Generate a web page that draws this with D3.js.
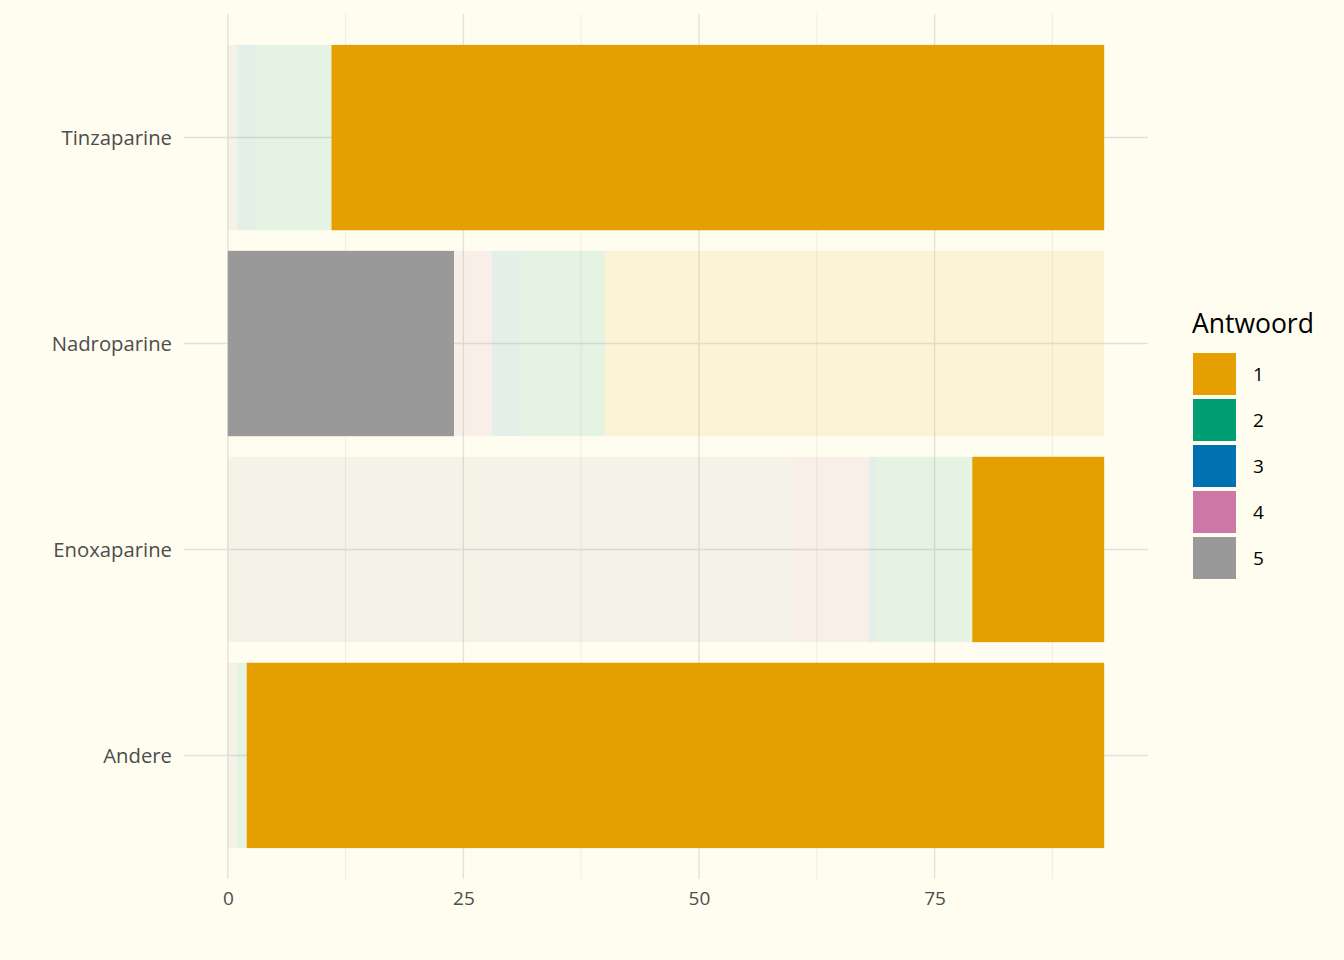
<!DOCTYPE html>
<html><head><meta charset="utf-8">
<script src="https://cdn.jsdelivr.net/npm/d3@7"></script>
<style>
html,body{margin:0;padding:0;background:#FFFDF0;}
svg{display:block;font-family:"Open Sans",sans-serif;}
</style></head>
<body><svg id="c" width="1344" height="960"></svg>
<script>
const categories = ["Tinzaparine","Nadroparine","Enoxaparine","Andere"];
const levels = ["1","2","3","4","5"];
const stackOrder = ["5","4","3","2","1"];
const values1 = [82, 53, 14, 91];
const values2 = [8, 9, 10, 1];
const values3 = [2, 3, 1, 0];
const values4 = [0, 4, 8, 0];
const values5 = [1, 24, 60, 1];
const highlighted = ["1","5","1","1"];
const colors = ["#E69F00","#009E73","#0072B2","#CC79A7","#999999"];
const xTicks = [0,25,50,75];
const xMinor = [12.5,37.5,62.5,87.5];

const vals = {"1":values1,"2":values2,"3":values3,"4":values4,"5":values5};
const color = d3.scaleOrdinal().domain(levels).range(colors);
const rows = categories.map((c,i)=>{const r={cat:c,hl:highlighted[i]};levels.forEach(l=>r[l]=vals[l][i]);return r;});
const stack = d3.stack().keys(stackOrder)(rows);
const total = d3.max(rows, r=>d3.sum(levels,l=>r[l]));

const svg = d3.select("#c");
const pL=184, pR=1148, pT=14, pB=879;
const pad = total*0.05;
const x = d3.scaleLinear().domain([-pad,total+pad]).range([pL,pR]);
// discrete axis with ggplot-style expansion (0.6 units each side)
const n = categories.length;
const yIdx = d3.scaleLinear().domain([-0.6, n-1+0.6]).range([pT,pB]);
const yc = c => yIdx(categories.indexOf(c));
const bh = (yIdx(1)-yIdx(0))*0.9;

const g = svg.append("g");
g.selectAll(".mn").data(xMinor).join("line")
 .attr("x1",d=>x(d)).attr("x2",d=>x(d)).attr("y1",pT).attr("y2",pB)
 .attr("stroke","#EFEDE2").attr("stroke-width",1);
g.selectAll(".mj").data(xTicks).join("line")
 .attr("x1",d=>x(d)).attr("x2",d=>x(d)).attr("y1",pT).attr("y2",pB)
 .attr("stroke","#E4E2D8").attr("stroke-width",1.4);
g.selectAll(".hy").data(categories).join("line")
 .attr("x1",pL).attr("x2",pR).attr("y1",d=>yc(d)).attr("y2",d=>yc(d))
 .attr("stroke","#E4E2D8").attr("stroke-width",1.4);

stack.forEach(layer=>{
  const key = layer.key;
  g.append("g").selectAll("rect").data(layer).join("rect")
   .attr("x",d=>x(d[0])).attr("width",d=>x(d[1])-x(d[0]))
   .attr("y",d=>yc(d.data.cat)-bh/2).attr("height",bh)
   .attr("fill",color(key))
   .attr("fill-opacity",d=>d.data.hl===key?1:0.1);
});

svg.append("g").selectAll("text").data(categories).join("text")
 .attr("x",172).attr("y",d=>yc(d)).attr("dy","0.35em")
 .attr("text-anchor","end").attr("font-size",20.3).attr("fill","#4D4D4D").text(d=>d);
const xa = svg.append("g").attr("transform",`translate(0,${pB})`)
 .call(d3.axisBottom(x).tickValues(xTicks).tickSize(0).tickPadding(13));
xa.select(".domain").remove();
xa.selectAll("text").attr("font-size",19).attr("fill","#4D4D4D").attr("font-family","Open Sans");

const lg = svg.append("g");
lg.append("text").attr("x",1192).attr("y",333).attr("font-size",26.5).attr("fill","#000").text("Antwoord");
const items = lg.selectAll("g").data(levels).join("g").attr("transform",(d,i)=>`translate(1193,${353+i*46})`);
items.append("rect").attr("width",43).attr("height",42).attr("fill",d=>color(d));
items.append("text").attr("x",60).attr("y",21).attr("dy","0.35em").attr("font-size",19).attr("fill","#000").text(d=>d);
</script></body></html>
